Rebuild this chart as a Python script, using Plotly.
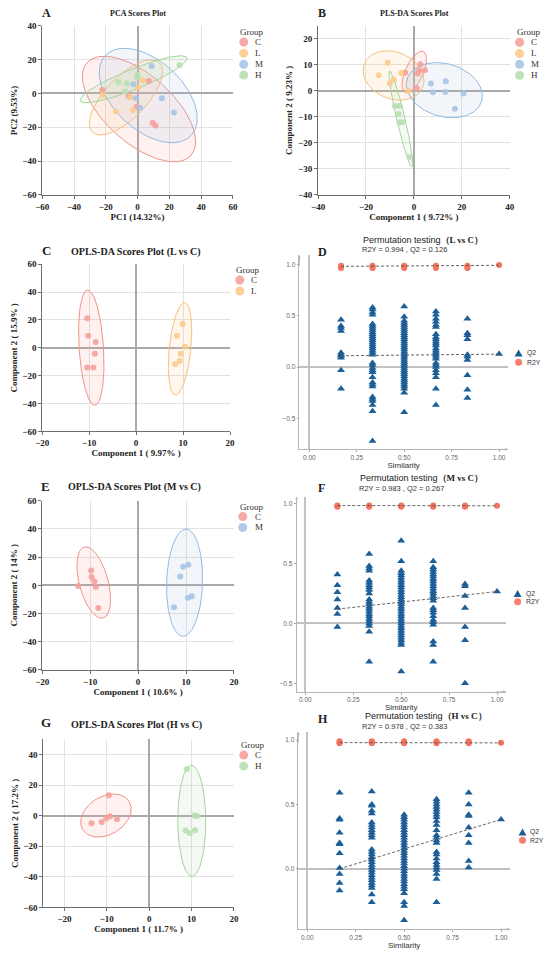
import numpy as np
import plotly.graph_objects as go

W, H = 550, 956
SERIF = "Liberation Serif"
SANS = "Liberation Sans"

# group colours: points, ellipse outline, ellipse fill
PT = {"C": "#F5A19B", "L": "#FCCB8C", "M": "#A6C5E7", "H": "#B7E0B0"}
LN = {"C": "#F0928B", "L": "#F8C07A", "M": "#93B9E2", "H": "#A2D69B"}
FL = {"C": "rgba(245,161,155,0.15)", "L": "rgba(252,203,140,0.15)",
      "M": "rgba(166,197,231,0.15)", "H": "rgba(183,224,176,0.15)"}
Q2_COL = "#1D5E97"
R2Y_COL = "#F4735F"

# ---------------- A: PCA scores ----------------
pca_groups = ["C", "L", "M", "H"]
pca_x = [[-22.2, -5.8, -0.5, 7.1, 9.5, 11.2],
         [-21.8, -13.6, -4.6, -3.0, 0.3, 3.4],
         [-2.6, -1.1, 1.5, 8.9, 15.3, 22.9],
         [-12.0, -6.7, -7.9, -0.1, -0.3, 26.4]]
pca_y = [[2.1, -1.4, -7.8, 7.4, -17.4, -18.9],
         [-0.8, -10.7, -2.3, -9.8, 3.5, 7.6],
         [5.5, -2.9, -8.4, 16.2, -2.9, -11.3],
         [6.6, 5.9, 1.2, 10.9, 9.5, 16.8]]
# ellipses: centre x, centre y, half-axis u (x, y), conjugate half-axis v (x, y)
pca_ell = [[0.9, -9.2, 32.8, -27.3, 13.9, 15.1],
           [-7.3, -2.3, 21.1, 20.5, 9.2, -8.6],
           [6.7, -1.2, 27.2, -23.4, 14.45, 15.2],
           [-2.5, 8.4, 33.5, 12.7, 2.32, -5.57]]

# ---------------- B: PLS-DA scores ----------------
pls_groups = ["C", "L", "M", "H"]
pls_x = [[2.7, 2.2, 1.6, 4.6, -3.7, 1.2],
         [-14.7, -10.9, -10.1, -8.4, -5.3, -2.4],
         [7.1, 7.9, 13.3, 13.1, 20.7, 17.1],
         [-7.9, -6.0, -6.3, -6.0, -4.9, -1.9]]
pls_y = [[10.2, 7.9, 6.7, 7.9, 7.0, 1.0],
         [6.0, 10.8, 2.9, 4.4, 6.9, 0.0],
         [2.8, -0.5, 3.7, -0.4, -1.0, -6.9],
         [-5.8, -5.8, -8.9, -12.1, -12.1, -25.4]]
pls_ell = [[0.14, 7.2, 3.8, 7.87, 3.39, -1.43],
           [-8.5, 5.9, 12.2, -4.44, 3.5, 8.4],
           [12.7, 0.25, 15.6, -4.06, 2.9, 9.8],
           [-5.44, -10.8, 4.63, -18.4, 1.7, 0.35]]

# ---------------- C: OPLS-DA L vs C ----------------
lc_groups = ["C", "L"]
lc_x = [[-10.4, -10.2, -8.6, -8.8, -10.4, -9.1],
        [9.9, 8.7, 10.4, 9.5, 9.3, 8.3]]
lc_y = [[21.3, 8.7, 4.2, -4.2, -14.1, -14.1],
        [17.2, 8.7, 0.8, -4.2, -9.4, -11.8]]
lc_ell = [[-9.55, 0.1, -0.75, 41.3, 2.6, 0.0],
          [9.35, -0.7, 0.95, 33.1, 2.3, 0.0]]

# ---------------- E: OPLS-DA M vs C ----------------
mc_groups = ["C", "M"]
mc_x = [[-12.5, -9.8, -9.7, -9.1, -8.8, -8.3],
        [9.4, 10.5, 8.8, 10.4, 11.2, 7.5]]
mc_y = [[-0.4, 10.6, 6.0, 2.7, -1.1, -16.0],
        [13.2, 14.6, 6.2, -8.8, -7.8, -15.6]]
mc_ell = [[-9.25, 2.0, -1.65, 25.3, 3.1, 0.0],
          [9.7, 1.9, 0.3, 38.0, 3.75, 0.0]]

# ---------------- G: OPLS-DA H vs C ----------------
hc_groups = ["C", "H"]
hc_x = [[-9.5, -13.6, -11.2, -10.1, -9.2, -7.6],
        [8.9, 10.7, 11.3, 8.6, 9.6, 10.8]]
hc_y = [[13.3, -4.9, -4.1, -1.7, -0.4, -2.4],
        [30.5, 0.2, -0.2, -9.7, -11.4, -9.5]]
hc_ell = [[-10.2, 0.1, 5.5, 9.1, 2.27, -10.75],
          [10.05, -3.35, -0.05, 36.25, 3.3, 0.0]]

# ---------------- permutation tests ----------------
sim_levels = [0.167, 0.333, 0.5, 0.667, 0.833, 1.0]

# D: L vs C
lcp_q2 = [
    [0.46, 0.40, 0.38, 0.35, 0.14, 0.12, 0.11, 0.09, -0.03, -0.21],
    [0.58, 0.56, 0.53, 0.51, 0.42, 0.40, 0.38, 0.36, 0.34, 0.32, 0.30, 0.28,
     0.26, 0.24, 0.22, 0.20, 0.18, 0.16, 0.14, 0.12, 0.04, 0.02, -0.01, -0.03,
     -0.05, -0.10, -0.15, -0.17, -0.19, -0.29, -0.31, -0.33, -0.37, -0.43, -0.72],
    [0.59, 0.49, 0.45, 0.43, 0.41, 0.39, 0.37, 0.35, 0.33, 0.31, 0.29, 0.27,
     0.25, 0.23, 0.21, 0.19, 0.17, 0.15, 0.13, 0.11, 0.09, 0.07, 0.05, 0.03,
     0.01, -0.01, -0.03, -0.05, -0.07, -0.09, -0.11, -0.13, -0.15, -0.17,
     -0.19, -0.21, -0.25, -0.44],
    [0.54, 0.51, 0.47, 0.44, 0.41, 0.39, 0.32, 0.29, 0.27, 0.25, 0.23, 0.21,
     0.18, 0.16, 0.14, 0.12, 0.10, 0.08, 0.04, 0.02, 0.0, -0.03, -0.06, -0.10,
     -0.21, -0.37],
    [0.47, 0.33, 0.31, 0.27, 0.12, 0.10, 0.07, -0.08, -0.22, -0.30],
    [0.126]]
lcp_r2y = [[0.965, 0.975, 0.985], [0.965, 0.975, 0.985], [0.965, 0.975, 0.985],
           [0.965, 0.975, 0.985], [0.965, 0.975, 0.985], [0.994]]
lcp_q2_line = [0.11, 0.126]
lcp_r2y_line = [0.98, 0.99]

# F: M vs C
mcp_q2 = [
    [0.41, 0.32, 0.26, 0.20, 0.13, 0.08, -0.03],
    [0.58, 0.48, 0.46, 0.44, 0.36, 0.34, 0.32, 0.30, 0.28, 0.25, 0.20, 0.18,
     0.16, 0.14, 0.12, 0.10, 0.08, 0.06, 0.04, 0.02, 0.00, -0.02, -0.07, -0.32],
    [0.69, 0.52, 0.44, 0.42, 0.40, 0.38, 0.36, 0.34, 0.32, 0.30, 0.28, 0.26,
     0.24, 0.22, 0.20, 0.18, 0.16, 0.14, 0.12, 0.10, 0.08, 0.06, 0.04, 0.02,
     0.0, -0.02, -0.04, -0.06, -0.08, -0.10, -0.12, -0.14, -0.16, -0.18, -0.40],
    [0.52, 0.47, 0.45, 0.43, 0.41, 0.39, 0.37, 0.35, 0.33, 0.31, 0.29, 0.27,
     0.25, 0.23, 0.21, 0.19, 0.13, 0.11, 0.09, 0.06, 0.03, 0.01, -0.01, -0.15,
     -0.18, -0.32],
    [0.33, 0.31, 0.23, 0.13, -0.03, -0.14, -0.50],
    [0.267]]
mcp_r2y = [[0.975, 0.98, 0.985], [0.975, 0.98, 0.985], [0.975, 0.98, 0.985],
           [0.975, 0.98, 0.985], [0.975, 0.98, 0.985], [0.983]]
mcp_q2_line = [0.12, 0.267]
mcp_r2y_line = [0.985, 0.983]

# H: H vs C
hcp_q2 = [
    [0.59, 0.39, 0.38, 0.28, 0.20, 0.19, 0.12, 0.005, -0.04, -0.11, -0.17],
    [0.60, 0.50, 0.49, 0.45, 0.43, 0.36, 0.34, 0.32, 0.30, 0.28, 0.26, 0.24,
     0.15, 0.13, 0.11, 0.09, 0.07, 0.05, 0.03, 0.01, -0.01, -0.03, -0.05,
     -0.07, -0.09, -0.11, -0.13, -0.15, -0.20, -0.26],
    [0.42, 0.40, 0.38, 0.36, 0.34, 0.32, 0.30, 0.28, 0.26, 0.24, 0.22, 0.20,
     0.18, 0.16, 0.14, 0.12, 0.10, 0.08, 0.06, 0.04, 0.02, 0.0, -0.02, -0.04,
     -0.06, -0.08, -0.10, -0.12, -0.14, -0.16, -0.19, -0.26, -0.29, -0.40],
    [0.54, 0.52, 0.50, 0.48, 0.46, 0.44, 0.42, 0.40, 0.37, 0.34, 0.30, 0.26,
     0.24, 0.22, 0.20, 0.13, 0.11, 0.08, 0.05, 0.03, 0.01, -0.01, -0.04,
     -0.08, -0.26],
    [0.59, 0.50, 0.42, 0.41, 0.32, 0.26, 0.20, 0.06, 0.01],
    [0.383]]
hcp_r2y = [[0.975, 0.98, 0.985, 0.99], [0.975, 0.98, 0.985, 0.99],
           [0.975, 0.98, 0.985, 0.99], [0.975, 0.98, 0.985, 0.99],
           [0.975, 0.98, 0.985, 0.99], [0.978]]
hcp_q2_line = [0.0, 0.383]
hcp_r2y_line = [0.98, 0.978]

fig = go.Figure()


def px(x):
    return x / W


def py(y):
    return 1 - y / H


def axis_ids(n):
    key = "" if n == 1 else str(n)
    return key, "x" + key, "y" + key


def add_scores(n, groups, xs, ys, ells):
    _, xa, ya = axis_ids(n)
    t = np.linspace(0, 2 * np.pi, 121)
    for g, e in zip(groups, ells):
        cx, cy, ux, uy, vx, vy = e
        fig.add_trace(go.Scatter(
            x=cx + ux * np.cos(t) + vx * np.sin(t),
            y=cy + uy * np.cos(t) + vy * np.sin(t),
            mode="lines", fill="toself", fillcolor=FL[g],
            line=dict(color=LN[g], width=1), hoverinfo="skip",
            showlegend=False, xaxis=xa, yaxis=ya))
    for g, gx, gy in zip(groups, xs, ys):
        fig.add_trace(go.Scatter(
            x=gx, y=gy, mode="markers", name=g, showlegend=False,
            marker=dict(color=PT[g], size=6, opacity=0.9),
            xaxis=xa, yaxis=ya))


def add_perm(n, q2, r2y, q2_line, r2y_line):
    _, xa, ya = axis_ids(n)
    qx, qy, rx, ry = [], [], [], []
    for s, col in zip(sim_levels, q2):
        qx += [s] * len(col)
        qy += col
    for s, col in zip(sim_levels, r2y):
        rx += [s] * len(col)
        ry += col
    fig.add_trace(go.Scatter(x=qx, y=qy, mode="markers", name="Q2", showlegend=False,
                             marker=dict(symbol="triangle-up", size=7, color=Q2_COL),
                             xaxis=xa, yaxis=ya))
    fig.add_trace(go.Scatter(x=rx, y=ry, mode="markers", name="R2Y", showlegend=False,
                             marker=dict(size=6, color=R2Y_COL), xaxis=xa, yaxis=ya))
    ends = [sim_levels[0], sim_levels[-1]]
    for line in (q2_line, r2y_line):
        fig.add_trace(go.Scatter(x=ends, y=line, mode="lines", showlegend=False,
                                 hoverinfo="skip",
                                 line=dict(color="#555555", width=0.9, dash="3px,2px"),
                                 xaxis=xa, yaxis=ya))


def scores_axes(n, box, xr, yr, xd, yd, xt, yt):
    key, _, _ = axis_ids(n)
    x0, y0, x1, y1 = box
    common = dict(showgrid=True, gridcolor="#e2e2e2", gridwidth=1,
                  zeroline=True, zerolinecolor="#a9a9a9", zerolinewidth=1.6,
                  showline=True, linecolor="#6f6f6f", linewidth=1,
                  ticks="outside", ticklen=3, tickcolor="#6f6f6f",
                  tickfont=dict(family=SERIF, size=9, color="#222", weight="bold"),
                  fixedrange=True)
    fig.layout["xaxis" + key] = dict(
        domain=[px(x0), px(x1)], range=xr, dtick=xd, tick0=0, anchor="y" + key,
        title=dict(text=xt, standoff=1,
                   font=dict(family=SERIF, size=9, color="#222", weight="bold")),
        **common)
    fig.layout["yaxis" + key] = dict(
        domain=[py(y1), py(y0)], range=yr, dtick=yd, tick0=0, anchor="x" + key,
        title=dict(text=yt, standoff=3,
                   font=dict(family=SERIF, size=9, color="#222", weight="bold")),
        **common)


def perm_axes(n, box, xr, yr):
    key, _, _ = axis_ids(n)
    x0, y0, x1, y1 = box
    common = dict(showgrid=False, zeroline=True, zerolinecolor="#c2c2c2",
                  zerolinewidth=1.6, showline=True, linecolor="#b5b5b5",
                  linewidth=0.8, ticks="outside", ticklen=2, tickcolor="#aaaaaa",
                  tickfont=dict(family=SANS, size=6.5, color="#666"),
                  fixedrange=True)
    fig.layout["xaxis" + key] = dict(
        domain=[px(x0), px(x1)], range=xr, anchor="y" + key,
        tickvals=[0, 0.25, 0.5, 0.75, 1.0], tickformat=".2f",
        title=dict(text="Similarity", standoff=0,
                   font=dict(family=SANS, size=8, color="#333")),
        **common)
    fig.layout["yaxis" + key] = dict(
        domain=[py(y1), py(y0)], range=yr, anchor="x" + key,
        tickvals=[-0.5, 0, 0.5, 1.0], tickformat=".1f", **common)
    # arrow heads on the axis ends
    for tip, off in (((x0, y0), (0, 12)), ((x1, y1), (-12, 0))):
        fig.add_annotation(x=px(tip[0]), y=py(tip[1]), xref="paper", yref="paper",
                           ax=off[0], ay=off[1], text="", showarrow=True,
                           arrowhead=2, arrowsize=0.7, arrowwidth=0.8,
                           arrowcolor="#b5b5b5")


def text(x, y, s, size, family=SERIF, bold=True, color="#222", anchor="center"):
    fig.add_annotation(x=px(x), y=py(y), xref="paper", yref="paper", text=s,
                       showarrow=False, xanchor=anchor, yanchor="middle",
                       borderpad=0,
                       font=dict(family=family, size=size, color=color,
                                 weight="bold" if bold else "normal"))


def dot(x, y, r, color):
    fig.add_shape(type="circle", xref="paper", yref="paper",
                  xsizemode="pixel", ysizemode="pixel",
                  xanchor=px(x), yanchor=py(y), x0=-r, x1=r, y0=-r, y1=r,
                  fillcolor=color, line_width=0, opacity=0.9)


def tri(x, y, color):
    fig.add_shape(type="path", xref="paper", yref="paper",
                  xsizemode="pixel", ysizemode="pixel",
                  xanchor=px(x), yanchor=py(y), path="M -4,-3.3 L 4,-3.3 L 0,3.8 Z",
                  fillcolor=color, line_width=0)


def group_legend(x, y, groups, mx, tx, ys):
    text(x, y, "Group", 9, bold=False, color="#333", anchor="left")
    for g, yy in zip(groups, ys):
        dot(mx, yy, 4.5, PT[g])
        text(tx, yy, g, 9, bold=False, color="#333", anchor="left")


def perm_legend(mx, tx, yq, yr):
    tri(mx, yq, Q2_COL)
    dot(mx, yr, 3.5, R2Y_COL)
    text(tx, yq, "Q2", 6.8, family=SANS, bold=False, color="#333", anchor="left")
    text(tx, yr, "R2Y", 6.8, family=SANS, bold=False, color="#333", anchor="left")


def perm_title(x, y, label, sub, subx):
    text(x, y, "Permutation testing<span style='font-family:Liberation Serif;"
         "font-weight:bold'>（" + label + "）</span>", 9, family=SANS, bold=False,
         color="#222")
    text(subx, y + 10.5, sub, 7.5, family=SANS, bold=False, color="#333")


# ---- panels ----
add_scores(1, pca_groups, pca_x, pca_y, pca_ell)
scores_axes(1, (36, 21, 231, 192), [-60, 60], [-60, 40], 20, 20,
            "PC1 (14.32%)", "PC2 (9.53%)")
text(134, 9, "PCA Scores Plot", 8)
text(40, 8, "A", 12)
group_legend(237, 27, pca_groups, 242, 252, [37.5, 48.7, 60, 70.8])

add_scores(2, pls_groups, pls_x, pls_y, pls_ell)
scores_axes(2, (318, 21, 514, 192), [-40, 40], [-40, 25], 20, 10,
            "Component 1 ( 9.72% )", "Component 2 ( 9.23% )")
text(417, 9, "PLS-DA Scores Plot", 8)
text(322, 8, "B", 12)
group_legend(520, 27, pls_groups, 524, 535, [37.7, 49, 60, 71])

add_scores(3, lc_groups, lc_x, lc_y, lc_ell)
scores_axes(3, (36, 262, 228, 431), [-20, 20], [-60, 60], 10, 20,
            "Component 1 ( 9.97% )", "Component 2 ( 15.9% )")
text(132, 250, "OPLS-DA Scores Plot (L vs C)", 10)
text(40, 248, "C", 13)
group_legend(233, 268, lc_groups, 238, 248, [278, 289])

add_perm(4, lcp_q2, lcp_r2y, lcp_q2_line, lcp_r2y_line)
perm_axes(4, (299, 253, 512, 449), [-0.052, 1.046], [-0.80, 1.087])
perm_title(425, 237, "L vs C", "R2Y = 0.994 , Q2 = 0.126", 406)
text(323, 250, "D", 12)
perm_legend(523, 531, 352, 361)

add_scores(5, mc_groups, mc_x, mc_y, mc_ell)
scores_axes(5, (36, 501, 232, 672), [-20, 20], [-60, 60], 10, 20,
            "Component 1 ( 10.6% )", "Component 2 ( 14% )")
text(130, 487, "OPLS-DA Scores Plot (M vs C)", 10)
text(39, 487, "E", 13)
group_legend(237, 507, mc_groups, 241, 252, [517, 528])

add_perm(6, mcp_q2, mcp_r2y, mcp_q2_line, mcp_r2y_line)
perm_axes(6, (296, 497, 510, 694), [-0.046, 1.046], [-0.57, 1.058])
perm_title(424, 478, "M vs C", "R2Y = 0.983 , Q2 = 0.267", 403)
text(322, 488, "F", 12)
perm_legend(522, 530, 595, 603)

add_scores(7, hc_groups, hc_x, hc_y, hc_ell)
scores_axes(7, (37, 742, 232, 912), [-25, 20], [-60, 50], 10, 20,
            "Component 1 ( 11.7% )", "Component 2 ( 17.2% )")
text(132, 728, "OPLS-DA Scores Plot (H vs C)", 10)
text(40, 725, "G", 13)
group_legend(238, 748, hc_groups, 242, 252, [758, 769])

add_perm(8, hcp_q2, hcp_r2y, hcp_q2_line, hcp_r2y_line)
perm_axes(8, (298, 735, 514, 934), [-0.045, 1.045], [-0.47, 1.06])
perm_title(428, 719, "H vs C", "R2Y = 0.978 , Q2 = 0.383", 406)
text(323, 722, "H", 12)
perm_legend(527, 534, 836, 844)

fig.update_layout(width=W, height=H, margin=dict(l=0, r=0, t=0, b=0),
                  paper_bgcolor="white", plot_bgcolor="white",
                  showlegend=False, font=dict(family=SERIF))

# the page's default body margin would push the 550x956 figure off the window
fig.write_html("out.html", config={"displayModeBar": False},
               post_script="document.body.style.margin='0';"
                           "document.body.style.overflow='hidden';")
